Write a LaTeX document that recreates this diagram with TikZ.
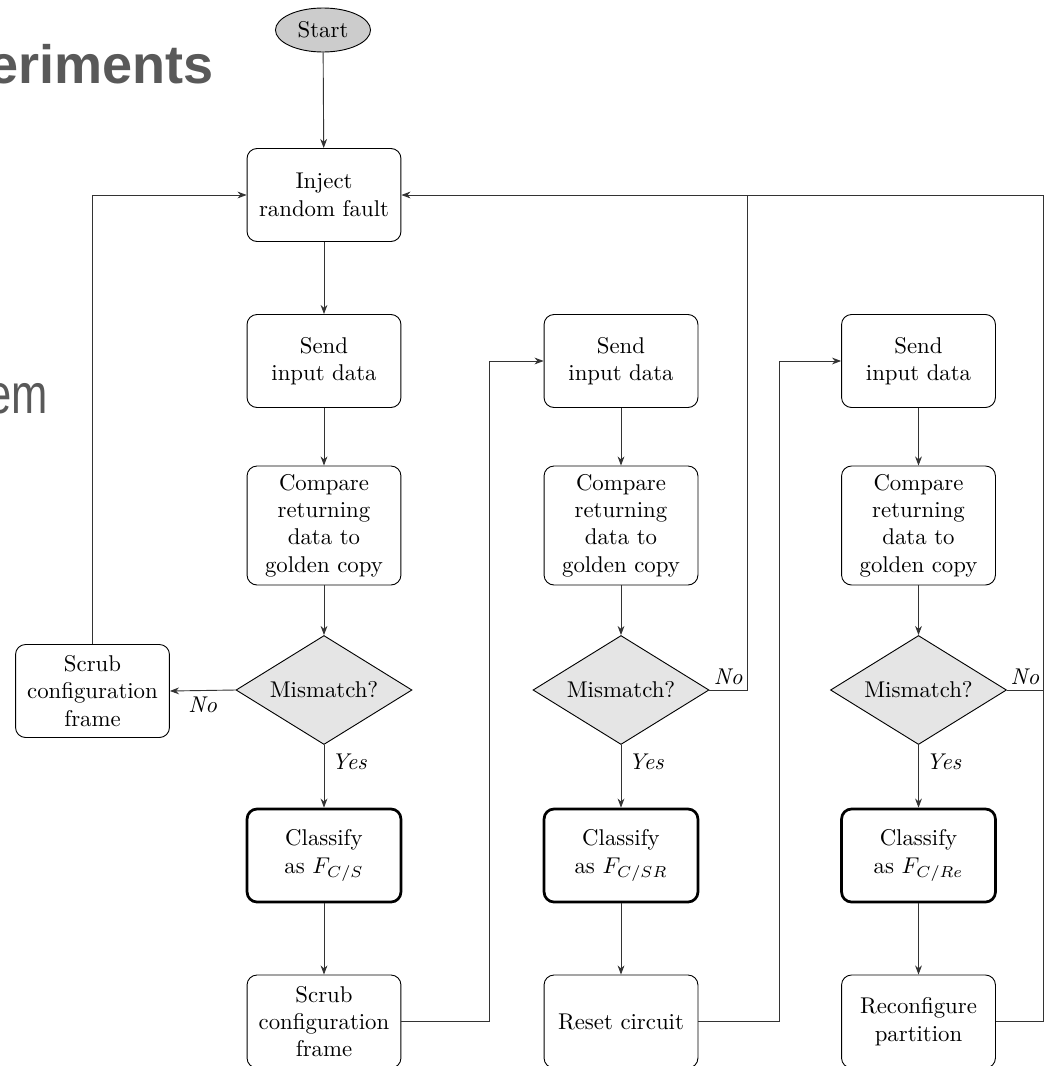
\documentclass[tikz,border=0pt]{standalone}
\usepackage{fontspec}
\newfontfamily\slidefont{Liberation Sans}
\usetikzlibrary{shapes.geometric, arrows.meta, calc}
\definecolor{slidegray}{HTML}{595959}
\definecolor{wire}{HTML}{333333}

\begin{document}
\begin{tikzpicture}[
  x=0.4386pt, y=-0.4386pt,
  box/.style={draw, rounded corners=4.4pt, minimum width=67.5pt, minimum height=40.8pt,
              align=center, inner sep=2pt},
  tallbox/.style={box, minimum height=52.2pt},
  keybox/.style={box, line width=1.2pt},
  decision/.style={diamond, draw, fill=gray!20, minimum width=77.2pt, minimum height=47.8pt,
                   inner sep=0pt, aspect=1.6},
  terminal/.style={ellipse, draw, fill=gray!40, minimum width=41.7pt, minimum height=19.3pt,
                   inner sep=1pt},
  flow/.style={draw=wire, -{Stealth[length=4pt,width=3pt]}},
  link/.style={draw=wire},
  lbl/.style={font=\itshape, inner sep=1pt}
]
\useasboundingbox (0,0) rectangle (1047,1066);

% slide heading fragments behind the chart
\node[anchor=base east, inner sep=0pt, text=slidegray,
      font=\slidefont\bfseries\fontsize{23.7}{28}\selectfont] (heading) at (214,83) {eriments};
\node[anchor=base east, inner sep=0pt, text=slidegray,
      font=\slidefont\fontsize{24.5}{29}\selectfont] (subhead) at (48,413) {\scalebox{0.78}[1]{em}};

% start and fault injection
\node[terminal] (start) at (323,30) {Start};
\node[box] (inject) at (324,195) {Inject\\random fault};

% column 1: scrubbing
\node[box]      (send1) at (324,361)    {Send\\input data};
\node[tallbox]  (cmp1)  at (324,525.5)  {Compare\\returning\\data to\\golden copy};
\node[decision] (dia1)  at (324,690)    {Mismatch?};
\node[keybox]   (cls1)  at (324,855.5)  {Classify\\as $F_{C/S}$};
\node[box]      (bot1)  at (324,1021.5) {Scrub\\configuration\\frame};
\node[box]      (scrub) at (92.5,691)   {Scrub\\configuration\\frame};

% column 2: reset
\node[box]      (send2) at (621,361)    {Send\\input data};
\node[tallbox]  (cmp2)  at (621,525.5)  {Compare\\returning\\data to\\golden copy};
\node[decision] (dia2)  at (621,690)    {Mismatch?};
\node[keybox]   (cls2)  at (621,855.5)  {Classify\\as $F_{C/SR}$};
\node[box]      (bot2)  at (621,1021.5) {Reset circuit};

% column 3: reconfiguration
\node[box]      (send3) at (918.5,361)    {Send\\input data};
\node[tallbox]  (cmp3)  at (918.5,525.5)  {Compare\\returning\\data to\\golden copy};
\node[decision] (dia3)  at (918.5,690)    {Mismatch?};
\node[keybox]   (cls3)  at (918.5,855.5)  {Classify\\as $F_{C/Re}$};
\node[box]      (bot3)  at (918.5,1021.5) {Reconfigure\\partition};

% routing columns for the return lines
\coordinate (j1) at (489,0);
\coordinate (j2) at (779,0);
\coordinate (r2) at (747,0);
\coordinate (r3) at (1043,0);

% main flow
\draw[flow] (start) -- (inject);
\draw[flow] (inject) -- (send1);
\foreach \i in {1,2,3} {
  \draw[flow] (send\i) -- (cmp\i);
  \draw[flow] (cmp\i) -- (dia\i);
  \draw[flow] (dia\i) -- (cls\i);
  \draw[flow] (cls\i) -- (bot\i);
  \node[lbl, anchor=west] at ($(dia\i.south)+(5,17)$) {Yes};
}

% no-mismatch branches
\draw[flow] (dia1.west) -- (scrub.east);
\node[lbl, anchor=north] at ($(dia1.west)!0.5!(scrub.east)+(0,4)$) {No};
\draw[flow] (scrub.north) |- (inject.west);

\draw[link] (dia2.east) -- (dia2.east -| r2) -- (inject.east -| r2);
\node[lbl, anchor=south] at ($(dia2.east)!0.5!(dia2.east -| r2)+(0,-3)$) {No};

\draw[flow] (dia3.east) -- (dia3.east -| r3) -- (inject.east -| r3) -- (inject.east);
\node[lbl, anchor=south] at ($(dia3.east)!0.5!(dia3.east -| r3)+(0,-3)$) {No};

% hand-over to the next experiment
\draw[flow] (bot1.east) -- (bot1.east -| j1) -- (send2.west -| j1) -- (send2.west);
\draw[flow] (bot2.east) -- (bot2.east -| j2) -- (send3.west -| j2) -- (send3.west);
\draw[link] (bot3.east) -- (bot3.east -| r3) -- (dia3.east -| r3);

\end{tikzpicture}
\end{document}
